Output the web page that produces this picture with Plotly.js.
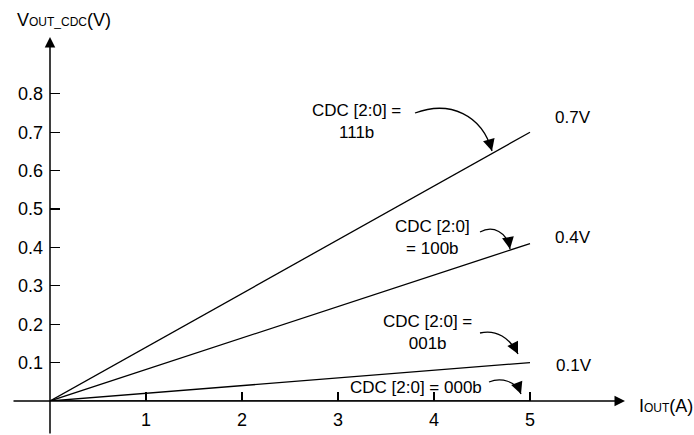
<!DOCTYPE html>
<html>
<head>
<meta charset="utf-8">
<script src="https://cdn.plot.ly/plotly-3.0.1.min.js"></script>
<style>html,body{margin:0;padding:0;background:#fff;}#chart{width:694px;height:435px;}</style>
</head>
<body>
<div id="chart"></div>
<script>
// ---- data ----
const iout = [0, 5];
const v111 = [0, 0.7];
const v100 = [0, 0.41];
const v001 = [0, 0.1];
const v000 = [0, 0];
const seriesNames = ['CDC [2:0] = 111b', 'CDC [2:0] = 100b', 'CDC [2:0] = 001b', 'CDC [2:0] = 000b'];
const xTicks = [1, 2, 3, 4, 5];
const yTicks = [0.1, 0.2, 0.3, 0.4, 0.5, 0.6, 0.7, 0.8];
const endLabels = ['0.7V', '0.4V', '0.1V'];
const calloutTexts = ['CDC [2:0] =<br>111b', 'CDC [2:0]<br>= 100b', 'CDC [2:0] =<br>001b', 'CDC [2:0] = 000b'];

// ---- layout geometry (pixels of the figure) ----
const W = 694, H = 435, L = 50, B = 34;
const PXU = 96, PYU = 384; // pixels per unit
const OX = L, OY = H - B;   // origin pixel
const dx = px => (px - OX) / PXU;
const dy = py => (OY - py) / PYU;
const pxp = px => (px - L) / (W - L);
const pyp = py => (OY - py) / OY;

const FONT = 'Liberation Sans, Arial, sans-serif';
const black = '#000';

const traces = [v111, v100, v001, v000].map((v, i) => ({
  x: iout, y: v, type: 'scatter', mode: 'lines', name: seriesNames[i],
  line: {color: black, width: 1.3}, hoverinfo: 'skip', cliponaxis: false
}));

// curved callout arrows (pixel geometry): start, c1, c2, end
const curves = [
  [[415,113],[450,100],[482,115],[492,151]],
  [[480,232],[493,225],[507,232],[510,249]],
  [[480,333],[496,329],[510,338],[518,354]],
  [[489,382],[501,377],[516,381],[521,394]]
];
const shapes = curves.map(c => ({
  type: 'path', xref: 'x', yref: 'y',
  path: `M${dx(c[0][0])},${dy(c[0][1])} C${dx(c[1][0])},${dy(c[1][1])} ${dx(c[2][0])},${dy(c[2][1])} ${dx(c[3][0])},${dy(c[3][1])}`,
  line: {color: black, width: 1.3}
}));

const annotations = [];
// curve arrowheads
curves.forEach(c => {
  const e = c[3], k = c[2];
  const vx = e[0] - k[0], vy = e[1] - k[1];
  const n = Math.hypot(vx, vy);
  annotations.push({
    xref: 'x', yref: 'y', x: dx(e[0]), y: dy(e[1]), text: '', showarrow: true,
    ax: -vx / n * 10, ay: -vy / n * 10, arrowhead: 2, arrowsize: 1.7, arrowwidth: 1.4, arrowcolor: black
  });
});
// axes with arrows
annotations.push({xref: 'x', yref: 'y', x: 0, y: dy(37), text: '', showarrow: true,
  ax: 0, ay: H - 37, arrowhead: 2, arrowsize: 1.4, arrowwidth: 1.5, arrowcolor: black});
annotations.push({xref: 'x', yref: 'y', x: dx(625), y: 0, text: '', showarrow: true,
  ax: -(625 - 12), ay: 0, arrowhead: 2, arrowsize: 1.4, arrowwidth: 1.5, arrowcolor: black});

// callout texts
const calloutPos = [[356,121],[432,237],[427,332],[416,387]];
calloutTexts.forEach((t, i) => annotations.push({
  xref: 'x', yref: 'y', x: dx(calloutPos[i][0]), y: dy(calloutPos[i][1]), text: t,
  showarrow: false, xanchor: 'center', yanchor: 'middle', align: 'center',
  font: {family: FONT, size: 17, color: black}
}));
// end labels
const endPos = [[553,117],[553,237],[554,365]];
endLabels.forEach((t, i) => annotations.push({
  xref: 'x', yref: 'y', x: dx(endPos[i][0]), y: dy(endPos[i][1]), text: t,
  showarrow: false, xanchor: 'left', yanchor: 'middle',
  font: {family: FONT, size: 17, color: black}
}));
// axis titles
annotations.push({xref: 'paper', yref: 'paper', x: pxp(15), y: pyp(20), xanchor: 'left', yanchor: 'middle',
  text: 'V<span style="font-size:12px">OUT_CDC</span>(V)', showarrow: false,
  font: {family: FONT, size: 18, color: black}});
annotations.push({xref: 'paper', yref: 'paper', x: pxp(637), y: pyp(406), xanchor: 'left', yanchor: 'middle',
  text: 'I<span style="font-size:12px">OUT</span>(A)', showarrow: false,
  font: {family: FONT, size: 18, color: black}});

const layout = {
  width: W, height: H,
  margin: {l: L, r: 0, t: 0, b: B, pad: 0},
  paper_bgcolor: '#fff', plot_bgcolor: '#fff',
  showlegend: false,
  font: {family: FONT, size: 16, color: black},
  xaxis: {range: [0, (W - L) / PXU], tickvals: xTicks, ticktext: xTicks.map(String),
    ticks: 'inside', ticklen: 9, tickwidth: 1.3, tickcolor: black, ticklabelstandoff: 6,
    showgrid: false, zeroline: false, showline: false,
    tickfont: {family: FONT, size: 18, color: black}, fixedrange: true},
  yaxis: {range: [0, OY / PYU], tickvals: yTicks, ticktext: yTicks.map(v => v.toFixed(1)),
    ticks: 'inside', ticklen: 10, tickwidth: 1.3, tickcolor: black, ticklabelstandoff: 6,
    showgrid: false, zeroline: false, showline: false,
    tickfont: {family: FONT, size: 18, color: black}, fixedrange: true},
  shapes: shapes,
  annotations: annotations
};

Plotly.newPlot('chart', traces, layout, {staticPlot: true, displayModeBar: false});
</script>
</body>
</html>
